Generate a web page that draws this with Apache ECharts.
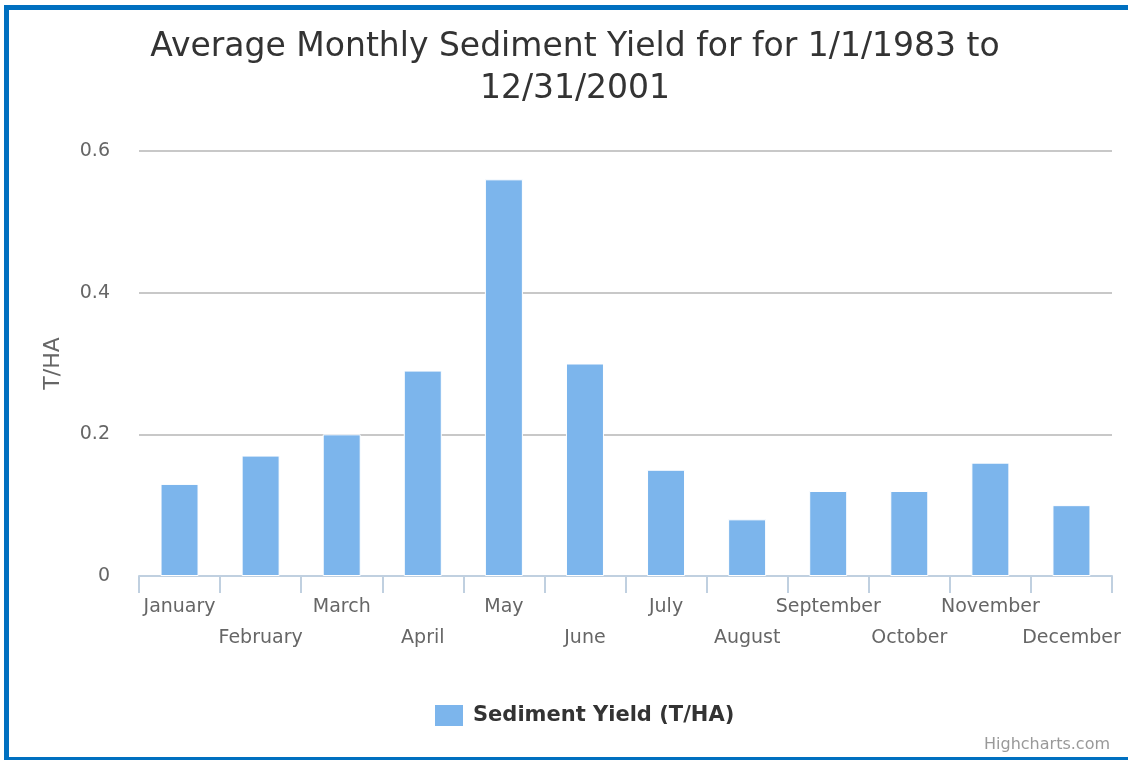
<!DOCTYPE html>
<html>
<head>
<meta charset="utf-8">
<script src="https://cdn.jsdelivr.net/npm/echarts@6/dist/echarts.min.js"></script>
<style>
  html, body { margin: 0; padding: 0; background: #fff; }
  #chart { width: 1128px; height: 760px; }
</style>
</head>
<body>
<div id="chart"></div>
<script>
// data
const months = ["January", "February", "March", "April", "May", "June",
  "July", "August", "September", "October", "November", "December"];
const sedimentYield = [0.13, 0.17, 0.2, 0.29, 0.56, 0.3, 0.15, 0.08, 0.12, 0.12, 0.16, 0.1];
const seriesName = "Sediment Yield (T/HA)";

const font = "'DejaVu Sans', sans-serif";
const chart = echarts.init(document.getElementById("chart"));

const option = {
  animation: false,
  backgroundColor: "#fff",
  textStyle: { fontFamily: font },
  title: {
    text: "Average Monthly Sediment Yield for for 1/1/1983 to\n12/31/2001",
    left: 570,
    textAlign: "center",
    top: 21,
    textStyle: {
      color: "#333",
      fontSize: 33,
      fontWeight: "normal",
      fontFamily: font,
      lineHeight: 42,
    },
  },
  legend: {
    bottom: 32,
    left: 433,
    padding: 0,
    itemWidth: 30,
    itemHeight: 23,
    itemGap: 10,
    icon: "rect",
    textStyle: {
      color: "#333",
      fontSize: 21,
      fontWeight: "bold",
      fontFamily: font,
      padding: [0, 0, 0, 4],
    },
    data: [seriesName],
  },
  grid: { left: 139, right: 16, top: 151, bottom: 184 },
  xAxis: {
    type: "category",
    data: months,
    axisLine: { lineStyle: { color: "#c0d0e0", width: 2 } },
    axisTick: { show: true, length: 17, lineStyle: { color: "#c0d0e0", width: 2 } },
    axisLabel: {
      interval: 0,
      color: "#666",
      fontSize: 19,
      fontFamily: font,
      lineHeight: 31,
      margin: 16,
      formatter: (v, i) => (i % 2 ? "\n" + v : v),
    },
  },
  yAxis: {
    type: "value",
    min: 0,
    max: 0.6,
    interval: 0.2,
    name: "T/HA",
    nameLocation: "middle",
    nameGap: 75,
    nameRotate: 90,
    nameTextStyle: { color: "#666", fontSize: 22, fontFamily: font },
    axisLabel: {
      color: "#666",
      fontSize: 19,
      fontFamily: font,
      margin: 29,
      formatter: (v) => (v === 0 ? "0" : String(+v.toFixed(1))),
    },
    splitLine: { lineStyle: { color: "#c8c8c8", width: 2 } },
    axisLine: { show: false },
    axisTick: { show: false },
  },
  series: [
    {
      name: seriesName,
      type: "bar",
      data: sedimentYield,
      barWidth: 38,
      itemStyle: { color: "#7cb5ec", borderColor: "#fff", borderWidth: 1 },
    },
  ],
  graphic: [
    // blue frame round the picture (left, top, bottom)
    { type: "rect", shape: { x: 4, y: 5, width: 1124, height: 5 }, style: { fill: "#0070c0" } },
    { type: "rect", shape: { x: 4, y: 5, width: 5, height: 755 }, style: { fill: "#0070c0" } },
    { type: "rect", shape: { x: 4, y: 757, width: 1124, height: 3 }, style: { fill: "#0070c0" } },
    {
      type: "text",
      right: 18,
      bottom: 7,
      style: { text: "Highcharts.com", fill: "#999", font: "16px 'DejaVu Sans', sans-serif" },
    },
  ],
};

chart.setOption(option);
</script>
</body>
</html>
